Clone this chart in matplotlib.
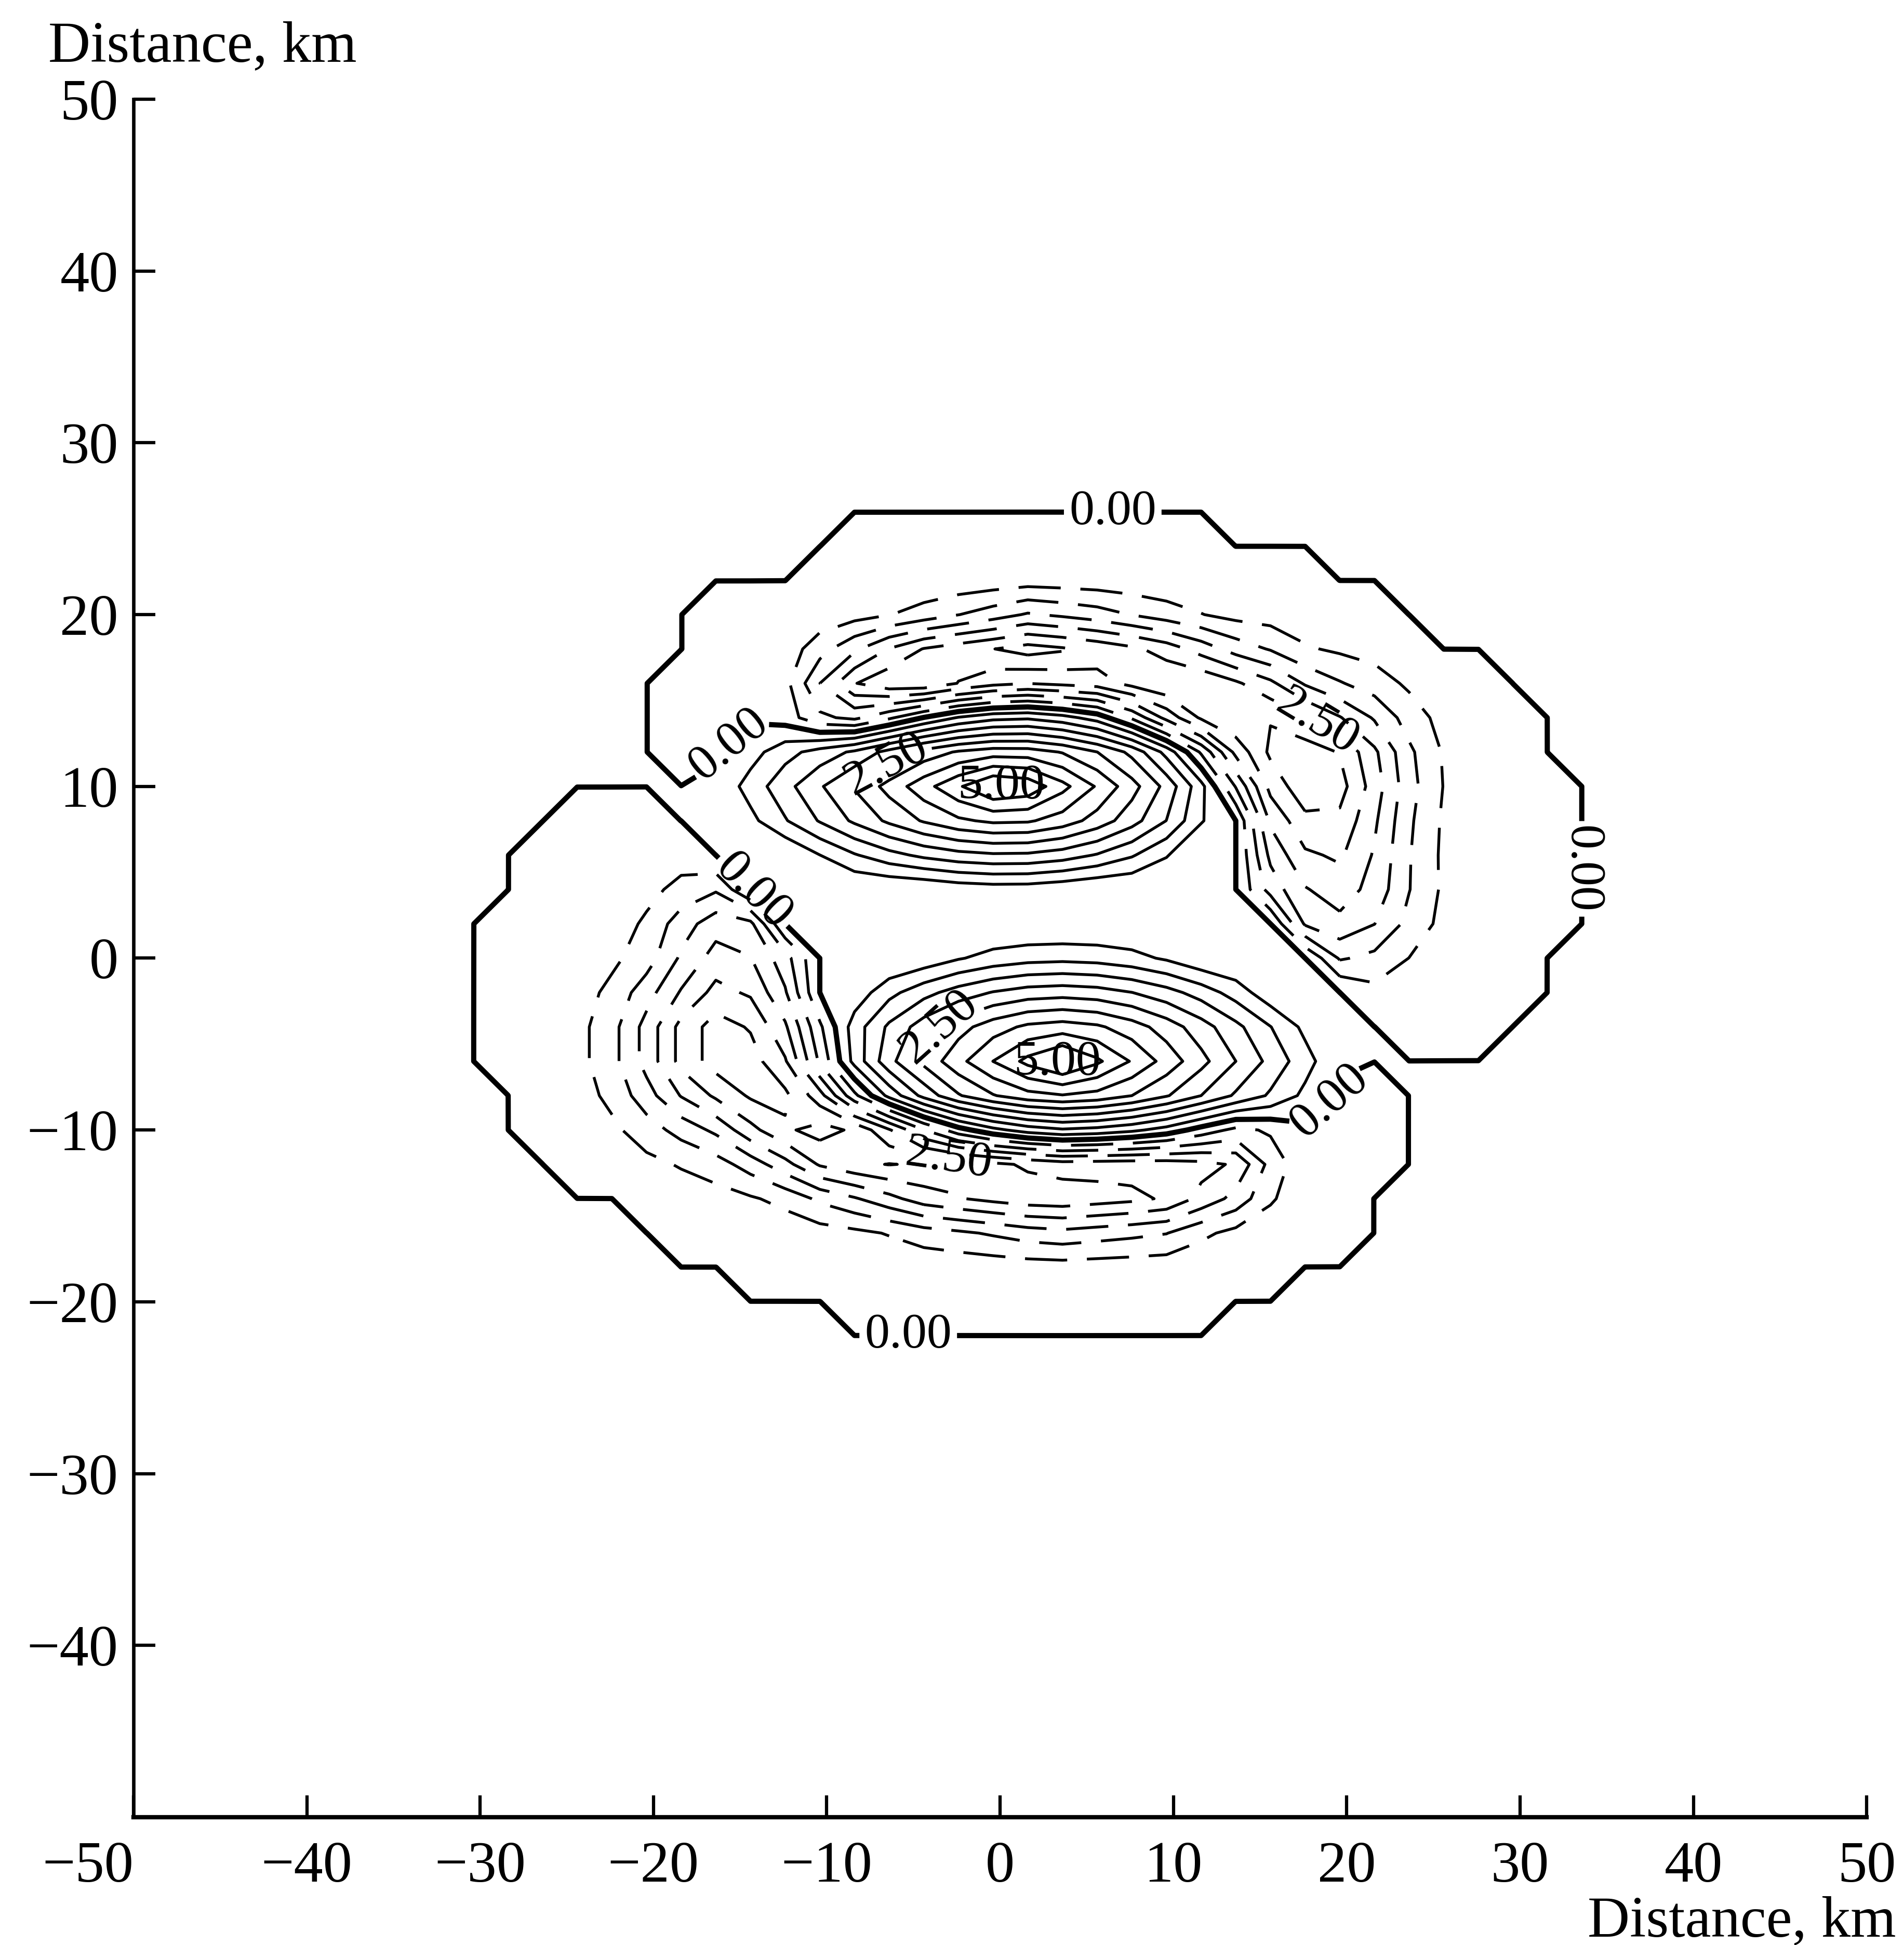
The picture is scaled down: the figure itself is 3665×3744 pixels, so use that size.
import numpy as np
import matplotlib
matplotlib.use("Agg")
import matplotlib.pyplot as plt
from matplotlib.path import Path

plt.rcParams["font.family"] = ["Liberation Serif", "DejaVu Serif"]

# analysis grid nodes (km), 2 km spacing as in the original map
grid_x = np.arange(-48.4, 50.0, 2.0)
grid_y = np.arange(-48.0, 50.0, 2.0)

# positive lobes (solid contours): centre, peak, extent to each side (km)
lobe_x = [0.4, 3.5]
lobe_y = [10.0, -6.2]
lobe_peak = [5.3, 5.3]
lobe_left = [17.1, 16.2]
lobe_right = [14.9, 16.3]
lobe_down = [6.3, 5.4]
lobe_up = [5.3, 7.4]

# negative crescents (dashed contours): ridge line, depth and half-width (km)
upper_ridge_x = [-8.5, -5.2, -1.5, 1.8, 6.0, 10.0, 14.5, 18.3, 19.5]
upper_ridge_y = [15.8, 16.6, 17.4, 17.8, 17.4, 16.3, 14.0, 10.5, 4.0]
upper_ridge_depth = [2.4, 3.15, 2.95, 3.2, 2.9, 2.95, 2.95, 3.4, 2.2]
upper_ridge_width = [1.9, 1.8, 1.8, 1.8, 1.9, 2.1, 2.7, 3.6, 3.2]

lower_ridge_x = [-15.8, -16.0, -13.2, -9.8, -4.0, 3.0, 9.0, 13.0]
lower_ridge_y = [0.0, -5.0, -8.0, -10.5, -12.5, -13.5, -13.2, -12.3]
lower_ridge_depth = [2.2, 3.3, 3.1, 3.15, 2.9, 2.9, 2.7, 2.0]
lower_ridge_width = [3.0, 3.8, 3.0, 2.4, 2.1, 2.0, 2.0, 1.9]

# outline of the areas where the field is non-zero negative
upper_zone_x = [-20.4, -20.4, -18.4, -18.4, -16.4, -12.4, -10.4, -8.4, 11.6, 13.6,
                17.6, 19.6, 21.6, 25.6, 27.6, 31.6, 31.6, 33.6, 33.6, 31.6,
                31.6, 27.6, 23.6, 21.6, 19.6, 15.6, 13.6, 13.6, 8.0, 0.0,
                -10.0, -18.4]
upper_zone_y = [12, 16, 18, 20, 22, 22, 24, 26, 26, 24,
                24, 22, 22, 18, 18, 14, 12, 10, 2, 0,
                -2, -6, -6, -4, -2, 2, 4, 8, 9, 10,
                10, 10]
lower_zone_x = [-16.4, -18.4, -20.4, -24.4, -28.4, -28.4, -30.4, -30.4, -28.4, -28.4,
                -24.4, -22.4, -18.4, -16.4, -14.4, -10.4, -8.4, 11.6, 13.6, 15.6,
                17.6, 19.6, 21.6, 21.6, 23.6, 23.6, 21.6, 14.0, 4.0, -6.0,
                -10.4, -10.4, -12.4, -14.4]
lower_zone_y = [6, 8, 10, 10, 6, 4, 2, -6, -8, -10,
                -14, -14, -18, -18, -20, -20, -22, -22, -20, -20,
                -18, -18, -16, -14, -12, -8, -6, -6, -5, -4,
                -2, 0, 2, 4]

pos_levels = [0.5, 1.0, 1.5, 2.0, 3.0, 3.5, 4.0, 4.5]
neg_levels = [-3.0, -2.0, -1.5, -1.0, -0.5]

xticks = [-50, -40, -30, -20, -10, 0, 10, 20, 30, 40, 50]
yticks = [-40, -30, -20, -10, 0, 10, 20, 30, 40, 50]

X, Y = np.meshgrid(grid_x, grid_y)


def zone_mask(zx, zy):
    verts = np.column_stack([zx, zy])
    path = Path(np.vstack([verts, verts[:1]]))
    pts = np.column_stack([X.ravel(), Y.ravel()])
    inside = path.contains_points(pts)
    a = verts
    b = np.roll(verts, -1, axis=0)
    ab = b - a
    t = ((pts[:, None, :] - a[None]) * ab[None]).sum(-1) / (ab ** 2).sum(-1)[None]
    t = np.clip(t, 0, 1)
    proj = a[None] + t[..., None] * ab[None]
    dmin = np.sqrt(((pts[:, None, :] - proj) ** 2).sum(-1)).min(axis=1)
    return (inside & (dmin > 0.3)).reshape(X.shape)


def ridge_field(rx, ry, rd, rw):
    out = np.zeros_like(X)
    for i in range(len(rx) - 1):
        ax_, ay_ = rx[i], ry[i]
        bx, by = rx[i + 1] - ax_, ry[i + 1] - ay_
        t = np.clip(((X - ax_) * bx + (Y - ay_) * by) / (bx * bx + by * by), 0, 1)
        d2 = (X - ax_ - t * bx) ** 2 + (Y - ay_ - t * by) ** 2
        dep = rd[i] + (rd[i + 1] - rd[i]) * t
        wid = rw[i] + (rw[i + 1] - rw[i]) * t
        out = np.minimum(out, -dep * np.exp(-d2 / (2 * wid ** 2)))
    return out


P = np.zeros_like(X)
for x0, y0, pk, rl, rr, rd, ru in zip(lobe_x, lobe_y, lobe_peak, lobe_left,
                                      lobe_right, lobe_down, lobe_up):
    dx = X - x0
    dy = Y - y0
    sx = np.where(dx < 0, rl, rr)
    sy = np.where(dy < 0, rd, ru)
    r = np.sqrt((dx / sx) ** 2 + (dy / sy) ** 2)
    P += pk * np.clip(1 - r, 0, None)

N = (ridge_field(upper_ridge_x, upper_ridge_y, upper_ridge_depth, upper_ridge_width)
     + ridge_field(lower_ridge_x, lower_ridge_y, lower_ridge_depth, lower_ridge_width))

Z = P + N
inside = zone_mask(upper_zone_x, upper_zone_y) | zone_mask(lower_zone_x, lower_zone_y)
Z = np.where(Z > 0, Z, np.where(inside, Z - 0.05, 0.0))

fig = plt.figure(figsize=(3665 / 300, 3744 / 300), dpi=300)
ax = fig.add_axes([0.0701, 0.0657, 0.9103, 0.8833])


def fmt(v):
    return f"{abs(v):.2f}" if abs(v) > 0.01 else "0.00"


thin = dict(colors="k", linewidths=1.3)
dash = [(0, (15, 7))]
cs_zero = ax.contour(X, Y, Z, levels=[-0.001], colors="k",
                     linewidths=2.4, linestyles="solid")
ax.contour(X, Y, Z, levels=pos_levels, linestyles="solid", **thin)
cs_p25 = ax.contour(X, Y, Z, levels=[2.5], linestyles="solid", **thin)
cs_p50 = ax.contour(X, Y, Z, levels=[5.0], linestyles="solid", **thin)
ax.contour(X, Y, Z, levels=neg_levels, linestyles=dash, **thin)
cs_n25 = ax.contour(X, Y, Z, levels=[-2.5], linestyles=dash, **thin)

lab_kw = dict(fmt=fmt, fontsize=23, inline=True, inline_spacing=12)
ax.clabel(cs_zero, manual=[(6.5, 26), (33.6, 5.2), (-5.3, -22), (-15.6, 12.4),
                           (-14.0, 4.1), (18.9, -8.2)], **lab_kw)
ax.clabel(cs_p25, manual=[(-6.7, 11.5), (-4.6, -3.0)], **lab_kw)
ax.clabel(cs_p50, manual=[(0.1, 10.3), (3.3, -6.1)], **lab_kw)
ax.clabel(cs_n25, manual=[(18.4, 13.9), (-2.9, -11.1)], **lab_kw)
for txt in cs_zero.labelTexts:
    if abs(txt.get_rotation() - 90) < 5:
        txt.set_rotation(270)

ax.set_xlim(-50, 50)
ax.set_ylim(-50, 50)
for s in ("top", "right"):
    ax.spines[s].set_visible(False)
ax.spines["left"].set_linewidth(1.6)
ax.spines["bottom"].set_linewidth(2.0)
ax.set_xticks(xticks)
ax.set_yticks(yticks)
ax.set_xticklabels([f"{v}".replace("-", "\u2212") for v in xticks])
ax.set_yticklabels([f"{v}".replace("-", "\u2212") for v in yticks])
ax.tick_params(direction="in", length=10, width=1.5, labelsize=27)
ax.tick_params(axis="x", pad=11)
ax.tick_params(axis="y", pad=7)
ax.get_xticklabels()[0].set_horizontalalignment("right")

fig.text(93 / 3665, 1 - 118 / 3744, "Distance, km", fontsize=27,
         ha="left", va="baseline")
fig.text(3650 / 3665, 1 - 3727 / 3744, "Distance, km", fontsize=27,
         ha="right", va="baseline")

fig.savefig("out.png", dpi=300)
